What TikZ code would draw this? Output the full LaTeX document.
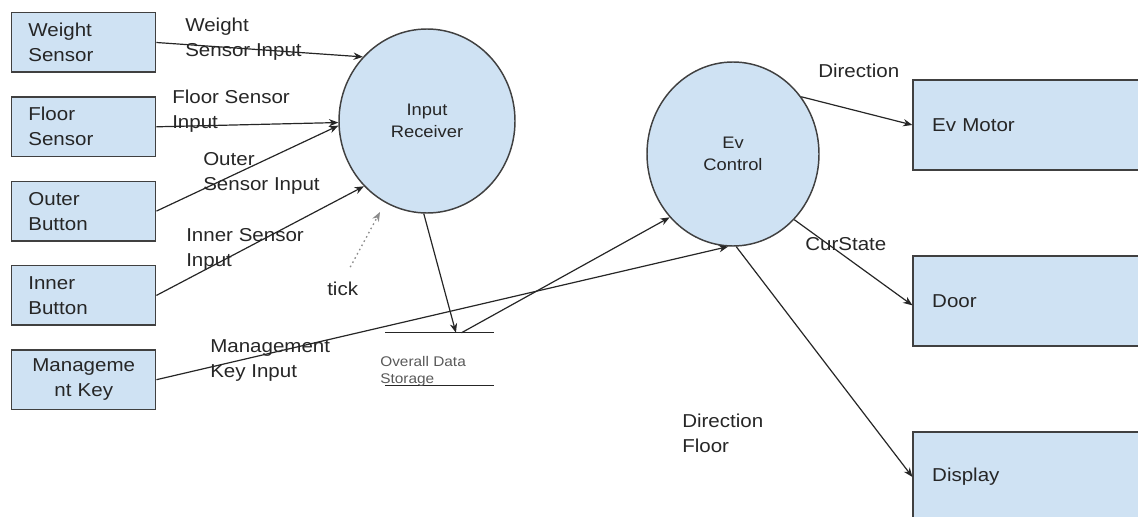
\documentclass[tikz,border=0pt]{standalone}
\usepackage{fontspec}
\setmainfont[FakeStretch=1.1]{Liberation Sans}
\usetikzlibrary{arrows.meta,shapes.geometric}
\definecolor{boxfill}{HTML}{CFE2F3}
\definecolor{edge}{HTML}{404040}
\definecolor{txt}{HTML}{262626}
\begin{document}
\begin{tikzpicture}[x=0.75pt,y=-0.75pt,
  mainfont/.style={font=\fontsize{14}{18.75}\selectfont},
  box/.style={draw=edge, line width=1.1pt, fill=boxfill, minimum width=108pt, minimum height=44.6pt,
    text width=83pt, inner xsep=12.25pt, inner ysep=0pt, align=left, mainfont, text=txt},
  rbox/.style={draw=edge, line width=1.1pt, fill=boxfill, minimum width=185pt, minimum height=67.5pt,
    text width=156.5pt, inner xsep=14.25pt, inner ysep=0pt, align=left, mainfont, text=txt},
  proc/.style={ellipse, draw=edge, line width=1.1pt, fill=boxfill, inner sep=0pt, align=center,
    font=\fontsize{12.5}{17}\selectfont, text=txt},
  lbl/.style={anchor=base west, align=left, inner sep=0pt, mainfont, text=txt},
  flow/.style={-{Stealth[length=7pt,width=5.5pt]}, line width=0.9pt, draw=black!85},
  tickflow/.style={-{Stealth[length=7pt,width=5.5pt]}, line width=1pt, draw=black!45, dash pattern=on 1.2pt off 2.4pt}
]
\useasboundingbox (0,0) rectangle (1138,517);
\clip (0,0) rectangle (1138,517);

% left boxes
\node[box] (ws) at (83.7,42.5) {Weight\\Sensor};
\node[box] (fs) at (83.7,126.8) {Floor\\Sensor};
\node[box] (ob) at (83.7,211.1) {Outer\\Button};
\node[box] (ib) at (83.7,295.4) {Inner\\Button};
\node[box, align=center] (mk) at (83.7,379.7) {Manageme\\nt Key};

% processes
\node[proc, minimum width=132pt, minimum height=138pt] (ir) at (427,121) {Input\\Receiver};
\node[proc, minimum width=129pt, minimum height=138pt] (ec) at (733,154) {Ev\\Control};

% right boxes
\node[rbox] (em) at (1036.5,125) {Ev Motor};
\node[rbox] (door) at (1036.5,301) {Door};
\node[rbox] (disp) at (1036.5,477) {Display};

% data store
\node[minimum width=81pt, minimum height=39pt, inner sep=0pt] (store) at (439.5,359) {};
\draw[line width=0.9pt, draw=black!85] (store.north west) -- (store.north east);
\draw[line width=0.9pt, draw=black!85] (store.south west) -- (store.south east);
\node[lbl, font=\fontsize{10.5}{12.75}\selectfont, text=black!65] (stl) at (380,383) {Overall Data\\Storage};

% labels (anchor = baseline of last line)
\node[lbl] (l1) at (185,56.7) {Weight\\Sensor Input};
\node[lbl] (l2) at (172,128) {Floor Sensor\\Input};
\node[lbl] (l3) at (203,190) {Outer\\Sensor Input};
\node[lbl] (l4) at (186,266) {Inner Sensor\\Input};
\node[lbl] (l5) at (210,377) {Management\\Key Input};
\node[lbl] (tick) at (327,295) {tick};
\node[lbl] (l6) at (818,78) {Direction};
\node[lbl] (l7) at (805,250) {CurState};
\node[lbl] (l8) at (682,452) {Direction\\Floor};

\coordinate (tickend) at (380,212);

% connectors
\draw[flow] (ws.east) -- (ir.135);
\draw[flow] (fs.east) -- (ir.181);
\draw[flow] (ob.east) -- (ir.183.5);
\draw[flow] (ib.east) -- (ir.226);
\draw[flow] (mk.east) -- (ec.267);
\draw[tickflow, shorten <=12pt] (tick.north) -- (tickend);
\draw[flow] (ir.268) -- (store.58);
\draw[flow] (store.50) -- (ec.225);
\draw[flow] (ec.40) -- (em.west);
\draw[flow] (ec.313) -- (door.182.8);
\draw[flow] (ec.272) -- (disp.west);
\end{tikzpicture}
\end{document}
